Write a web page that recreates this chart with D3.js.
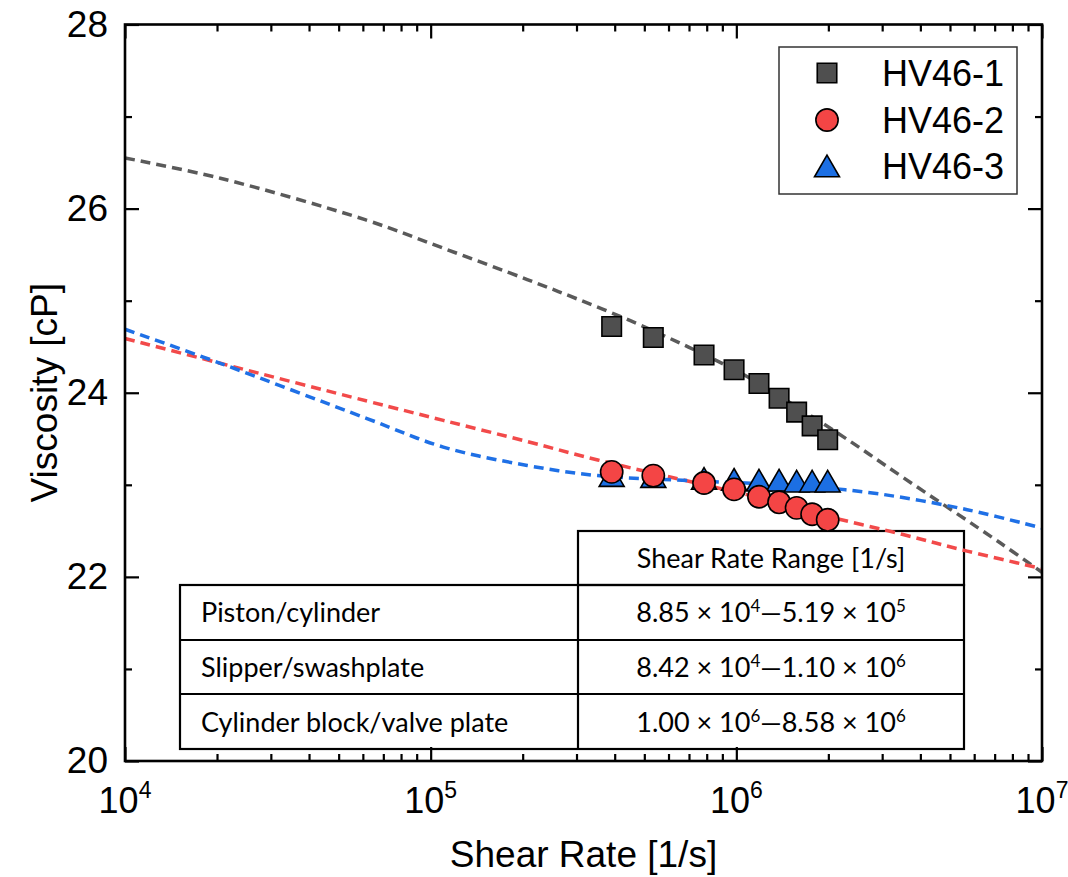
<!DOCTYPE html>
<html><head><meta charset="utf-8">
<script src="https://cdn.jsdelivr.net/npm/d3@7"></script>
<style>body{margin:0;background:#fff}</style>
</head><body>
<svg id="chart" width="1068" height="877"></svg>
<script>
// ---------------- data ----------------
const seriesNames = ["HV46-1", "HV46-2", "HV46-3"];
const shearRate = [3.91e5, 5.35e5, 7.84e5, 9.83e5, 1.186e6, 1.38e6, 1.575e6, 1.77e6, 1.99e6];
const visc1 = [24.72, 24.60, 24.41, 24.25, 24.10, 23.94, 23.79, 23.64, 23.49];
const visc2 = [23.14, 23.10, 23.02, 22.95, 22.87, 22.81, 22.75, 22.68, 22.62];
const visc3 = [23.10, 23.09, 23.07, 23.06, 23.05, 23.05, 23.04, 23.04, 23.04];

const fit1Rate = [1.00e4, 2.05e4, 6.10e4, 1.10e5, 2.07e5, 3.01e5, 4.52e5, 6.44e5, 8.85e5, 1.08e6, 2.15e6, 3.51e6, 7.29e6, 1.00e7];
const fit1Visc = [26.55, 26.33, 25.88, 25.57, 25.23, 25.02, 24.78, 24.55, 24.33, 24.18, 23.56, 23.08, 22.37, 22.05];
const fit2Rate = [1.00e4, 2.05e4, 6.19e4, 1.10e5, 2.07e5, 3.52e5, 7.83e5, 1.19e6, 1.98e6, 3.51e6, 5.69e6, 1.00e7];
const fit2Visc = [24.59, 24.32, 23.91, 23.70, 23.47, 23.27, 23.00, 22.86, 22.66, 22.46, 22.28, 22.09];
const fit3Rate = [1.00e4, 2.05e4, 6.19e4, 1.10e5, 2.07e5, 3.52e5, 7.60e5, 1.61e6, 2.95e6, 5.69e6, 1.00e7];
const fit3Visc = [24.69, 24.32, 23.72, 23.41, 23.21, 23.10, 23.04, 22.99, 22.90, 22.73, 22.53];

const yMajorTicks = [20, 22, 24, 26, 28];
const yMinorTicks = [21, 23, 25, 27];
const xMajorTicks = [1e4, 1e5, 1e6, 1e7];
const xTickExponents = ["4", "5", "6", "7"];
const xMinorTicks = [2e4,3e4,4e4,5e4,6e4,7e4,8e4,9e4,2e5,3e5,4e5,5e5,6e5,7e5,8e5,9e5,2e6,3e6,4e6,5e6,6e6,7e6,8e6,9e6];

const tableHeader = "Shear Rate Range [1/s]";
const tableComponents = ["Piston/cylinder", "Slipper/swashplate", "Cylinder block/valve plate"];
const rangeLow = [["8.85", "4"], ["8.42", "4"], ["1.00", "6"]];
const rangeHigh = [["5.19", "5"], ["1.10", "6"], ["8.58", "6"]];

// ---------------- layout ----------------
const svg = d3.select("#chart");
const L = 125, R = 1042, T = 24.5, B = 761;
const x = d3.scaleLog().domain([1e4, 1e7]).range([L, R]);
const y = d3.scaleLinear().domain([20, 28]).range([B, T]);
const axisFont = "'Liberation Sans', Arial, sans-serif";
const tableFont = "Lato, 'Open Sans', sans-serif";

const colors = {
  gray: "#4f4f4f", grayLine: "#5a5a5a",
  red: "#f44545", redLine: "#f24a4a",
  blue: "#1c6fe3", blueLine: "#1f70e6"
};

// ---------------- table (under curves) ----------------
const tbl = svg.append("g").attr("fill", "none").attr("stroke", "#000").attr("stroke-width", 2.2);
const tX0 = 180, tX1 = 578, tX2 = 964;
const rowY = [531, 585, 640, 694, 749];
tbl.append("rect").attr("x", tX1).attr("y", rowY[0]).attr("width", tX2 - tX1).attr("height", rowY[1] - rowY[0]);
tbl.append("rect").attr("x", tX0).attr("y", rowY[1]).attr("width", tX2 - tX0).attr("height", rowY[4] - rowY[1]);
[rowY[2], rowY[3]].forEach(v => tbl.append("line").attr("x1", tX0).attr("x2", tX2).attr("y1", v).attr("y2", v));
tbl.append("line").attr("x1", tX1).attr("x2", tX1).attr("y1", rowY[1]).attr("y2", rowY[4]);

const tt = svg.append("g").attr("font-family", tableFont).attr("font-size", 27).attr("fill", "#000");
tt.append("text").attr("x", (tX1 + tX2) / 2).attr("y", 568).attr("text-anchor", "middle").text(tableHeader);
const rowBase = [621.7, 676.7, 731.7];
tableComponents.forEach((c, i) => {
  tt.append("text").attr("x", 201).attr("y", rowBase[i]).text(c);
  const t = tt.append("text").attr("x", (tX1 + tX2) / 2).attr("y", rowBase[i]).attr("text-anchor", "middle");
  t.append("tspan").text(rangeLow[i][0] + " \u00d7 10");
  t.append("tspan").attr("font-size", 17).attr("dy", -10).text(rangeLow[i][1]);
  t.append("tspan").attr("dy", 10).text("\u2014" + rangeHigh[i][0] + " \u00d7 10");
  t.append("tspan").attr("font-size", 17).attr("dy", -10).text(rangeHigh[i][1]);
});

// ---------------- fit curves ----------------
const line = d3.line().x(d => x(d[0])).y(d => y(d[1])).curve(d3.curveCatmullRom.alpha(0.5));
const fits = [
  [fit1Rate, fit1Visc, colors.grayLine],
  [fit2Rate, fit2Visc, colors.redLine],
  [fit3Rate, fit3Visc, colors.blueLine]
];
fits.forEach(([r, v, c]) => {
  svg.append("path").datum(r.map((d, i) => [d, v[i]]))
    .attr("d", line).attr("fill", "none").attr("stroke", c)
    .attr("stroke-width", 3.5).attr("stroke-dasharray", "10,6");
});

// ---------------- markers ----------------
const triangleBox = {
  draw(ctx, size) {
    const w = Math.sqrt(size * 4 / Math.sqrt(3));
    const h = w * Math.sqrt(3) / 2;
    ctx.moveTo(0, -h / 2); ctx.lineTo(w / 2, h / 2); ctx.lineTo(-w / 2, h / 2); ctx.closePath();
  }
};
const symSquare = d3.symbol().type(d3.symbolSquare).size(380)();
const symCircle = d3.symbol().type(d3.symbolCircle).size(390)();
const symTri = d3.symbol().type(triangleBox).size(270)();

function drawMarkers(vals, path, fill) {
  svg.append("g").selectAll("path").data(shearRate.map((d, i) => [d, vals[i]])).join("path")
    .attr("d", path).attr("transform", d => `translate(${x(d[0])},${y(d[1])})`)
    .attr("fill", fill).attr("stroke", "#000").attr("stroke-width", 1.6);
}
drawMarkers(visc1, symSquare, colors.gray);
drawMarkers(visc3, symTri, colors.blue);
drawMarkers(visc2, symCircle, colors.red);

// ---------------- axes ----------------
function noLabels(g) { g.selectAll("text").remove(); g.select(".domain").remove(); g.selectAll(".tick line").attr("stroke-width", 2.2); }
svg.append("g").attr("transform", `translate(${L},0)`)
  .call(d3.axisLeft(y).tickValues(yMajorTicks).tickSize(-14).tickSizeOuter(0).tickPadding(17).tickFormat(d3.format("d")))
  .call(g => { g.select(".domain").remove(); g.selectAll(".tick line").attr("stroke-width", 2.2);
    g.selectAll("text").attr("font-family", axisFont).attr("font-size", 37).attr("fill", "#000"); });
svg.append("g").attr("transform", `translate(${L},0)`).call(d3.axisLeft(y).tickValues(yMinorTicks).tickSize(-7)).call(noLabels);
svg.append("g").attr("transform", `translate(${R},0)`).call(d3.axisRight(y).tickValues(yMajorTicks).tickSize(-14)).call(noLabels);
svg.append("g").attr("transform", `translate(${R},0)`).call(d3.axisRight(y).tickValues(yMinorTicks).tickSize(-7)).call(noLabels);
svg.append("g").attr("transform", `translate(0,${B})`).call(d3.axisBottom(x).tickValues(xMajorTicks).tickSize(-14)).call(noLabels);
svg.append("g").attr("transform", `translate(0,${B})`).call(d3.axisBottom(x).tickValues(xMinorTicks).tickSize(-7)).call(noLabels);
svg.append("g").attr("transform", `translate(0,${T})`).call(d3.axisTop(x).tickValues(xMajorTicks).tickSize(-14)).call(noLabels);
svg.append("g").attr("transform", `translate(0,${T})`).call(d3.axisTop(x).tickValues(xMinorTicks).tickSize(-7)).call(noLabels);

// x tick labels with superscripts
xMajorTicks.forEach((v, i) => {
  const t = svg.append("text").attr("x", x(v)).attr("y", 813).attr("text-anchor", "middle")
    .attr("font-family", axisFont).attr("font-size", 36).attr("fill", "#000");
  t.append("tspan").text("10");
  t.append("tspan").attr("font-size", 23).attr("dy", -15).text(xTickExponents[i]);
});

// frame
svg.append("rect").attr("x", L).attr("y", T).attr("width", R - L).attr("height", B - T)
  .attr("fill", "none").attr("stroke", "#000").attr("stroke-width", 2.6);

// axis titles
svg.append("text").attr("x", (L + R) / 2).attr("y", 867).attr("text-anchor", "middle")
  .attr("font-family", axisFont).attr("font-size", 37).attr("fill", "#000").text("Shear Rate [1/s]");
svg.append("text").attr("transform", `translate(57,${(T + B) / 2}) rotate(-90)`).attr("text-anchor", "middle")
  .attr("font-family", axisFont).attr("font-size", 37).attr("fill", "#000").text("Viscosity [cP]");

// ---------------- legend ----------------
const lg = svg.append("g");
lg.append("rect").attr("x", 779).attr("y", 47).attr("width", 238).attr("height", 147)
  .attr("fill", "#fff").attr("stroke", "#333").attr("stroke-width", 1.5);
const legSyms = [[symSquare, colors.gray], [symCircle, colors.red], [symTri, colors.blue]];
const legY = [73, 120, 166];
seriesNames.forEach((n, i) => {
  lg.append("path").attr("d", legSyms[i][0]).attr("transform", `translate(827,${legY[i]})`)
    .attr("fill", legSyms[i][1]).attr("stroke", "#000").attr("stroke-width", 1.6);
  lg.append("text").attr("x", 882).attr("y", legY[i] + 12.5)
    .attr("font-family", axisFont).attr("font-size", 36).attr("fill", "#000").text(n);
});
</script>
</body></html>
